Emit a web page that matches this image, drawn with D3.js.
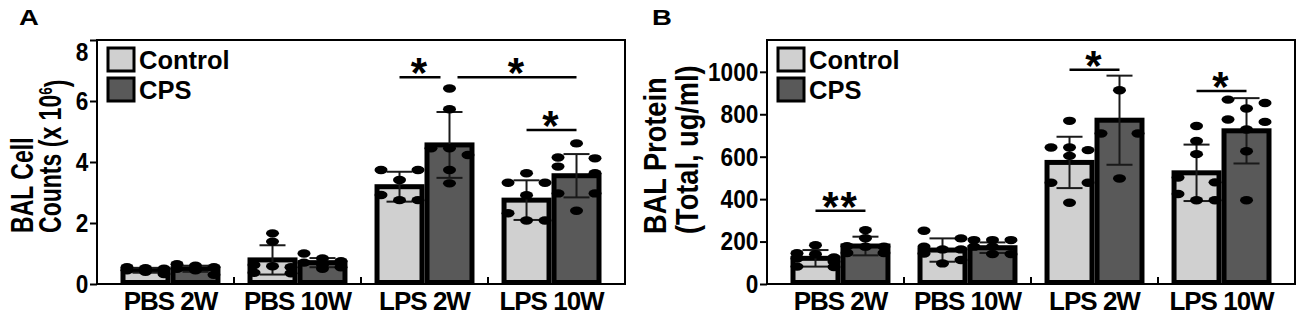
<!DOCTYPE html>
<html lang="en">
<head>
    <meta charset="UTF-8">
    <title>BAL cells and protein</title>
    <style>
        body { margin: 0; background: #fff; }
        svg { display: block; font-family: "Liberation Sans", Arial, sans-serif; font-weight: bold; }
    </style>
</head>
<body>

<div id="content"></div>

<script src="https://d3js.org/d3.v7.min.js"></script>
<script>

    // categories
    var groups = ["PBS 2W", "PBS 10W", "LPS 2W", "LPS 10W"];
    var series = ["Control", "CPS"];

    // A: BAL cell counts (x 10^6), mean and SD per group
    var cellMeanControl = [0.45, 0.79, 3.19, 2.75];
    var cellMeanCPS = [0.50, 0.70, 4.56, 3.55];
    var cellSdControl = [0.08, 0.48, 0.49, 0.65];
    var cellSdCPS = [0.10, 0.15, 1.08, 0.71];
    var cellTicks = [0, 2, 4, 6, 8];

    // A: individual animals
    var cellDotsControl = [
        [0.55, 0.52, 0.5, 0.45, 0.4, 0.33],
        [1.66, 1.39, 0.62, 0.58, 0.55, 0.37, 0.35],
        [3.74, 3.74, 3.41, 2.92, 2.75, 2.75],
        [3.63, 3.32, 3.32, 2.91, 2.32, 2.08, 2.08]
    ];
    var cellDotsCPS = [
        [0.65, 0.6, 0.55, 0.5, 0.45, 0.3],
        [1.0, 0.84, 0.75, 0.7, 0.62, 0.55, 0.5],
        [6.41, 5.73, 4.45, 4.45, 4.23, 3.74, 3.30],
        [4.61, 4.15, 4.12, 3.85, 3.63, 2.97, 2.97, 2.4]
    ];

    // B: BAL protein (total, ug/ml)
    var protMeanControl = [121, 160, 573, 524];
    var protMeanCPS = [179, 171, 772, 722];
    var protSdControl = [39, 55, 121, 133];
    var protSdCPS = [44, 25, 210, 154];
    var protTicks = [0, 200, 400, 600, 800, 1000];

    var protDotsControl = [
        [183, 145, 140, 125, 120, 105, 82, 80],
        [251, 215, 176, 163, 163, 144, 113, 97],
        [769, 643, 643, 631, 604, 477, 477, 383],
        [745, 674, 612, 502, 479, 424, 395, 395]
    ];
    var protDotsCPS = [
        [254, 216, 178, 176, 176, 146, 146],
        [207, 207, 207, 176, 176, 141, 141],
        [913, 709, 709, 497],
        [869, 853, 827, 775, 764, 728, 626, 395]
    ];

    // significance: [group, series] -> [group, series], label, height in data units
    var cellSig = [
        {from: [2, 0], to: [2, 1], label: "*", y: 6.78},
        {from: [2, 1], to: [3, 1], label: "*", y: 6.78},
        {from: [3, 0], to: [3, 1], label: "*", y: 5.05}
    ];
    var protSig = [
        {from: [0, 0], to: [0, 1], label: "**", y: 345},
        {from: [2, 0], to: [2, 1], label: "*", y: 1010},
        {from: [3, 0], to: [3, 1], label: "*", y: 910}
    ];

    var fills = ["#d0d0d0", "#595959"];

    var svg = d3.select("#content")
        .append("svg")
        .attr("width", 1299)
        .attr("height", 317)
        .style("background-color", "#fff");

    // dots closer than one dot height share a row (at most 3) and sit side by side
    function swarm(values, yScale, step) {
        var sorted = values.slice().sort(function (a, b) { return b - a; });
        var rows = [];
        sorted.forEach(function (v) {
            var row = rows[rows.length - 1];
            if (row && row.length < 3 && yScale(v) - yScale(row[0]) < 8) row.push(v);
            else rows.push([v]);
        });
        var out = [];
        rows.forEach(function (row) {
            var n = row.length;
            row.forEach(function (v, k) {
                out.push({v: v, dx: (k - (n - 1) / 2) * step * (n == 2 ? 2 : 1)});
            });
        });
        return out;
    }

    function createBarPanel(p) {
        var top = 40, bottom = 284, width = 528;
        var g = svg.append("g").attr("transform", "translate(" + p.left + ",0)");

        var xScale = d3.scaleBand().domain(groups).range([0, width]).paddingInner(0.213).paddingOuter(0.185);
        var xSub = d3.scaleBand().domain(series).range([0, xScale.bandwidth()]);
        var yScale = d3.scaleLinear().domain(p.yDomain).range([bottom, top]);

        function barCenter(gi, si) {
            return xScale(groups[gi]) + xSub(series[si]) + xSub.bandwidth() / 2;
        }

        // y axis
        var yAxis = d3.axisLeft(yScale).tickValues(p.ticks).tickFormat(d3.format("d")).tickSize(7).tickSizeOuter(0);
        var yAxisG = g.append("g").call(yAxis);
        yAxisG.select(".domain").remove();
        yAxisG.selectAll("line").attr("stroke", "#000").attr("stroke-width", 2);
        yAxisG.selectAll("text")
            .attr("x", -10)
            .attr("transform", "scale(0.87,1)")
            .style("font-size", "26px")
            .style("font-family", "'Liberation Sans', Arial, sans-serif")
            .style("font-weight", "bold")
            .attr("fill", "#000");
        if (p.topLabelShift) {
            yAxisG.selectAll("text").filter(function (d) { return d == p.yDomain[1]; })
                .attr("dy", (0.32 * 26 + p.topLabelShift) + "px");
        }

        // bars
        series.forEach(function (s, si) {
            g.selectAll(".bar" + si)
                .data(p.means[si])
                .enter().append("rect")
                .attr("x", function (d, i) { return xScale(groups[i]) + xSub(s) + 2.5; })
                .attr("y", function (d) { return yScale(d); })
                .attr("width", xSub.bandwidth() - 5)
                .attr("height", function (d) { return yScale(0) - yScale(d) - 1.5; })
                .attr("fill", fills[si])
                .attr("stroke", "#000")
                .attr("stroke-width", 5);
        });

        // error bars
        series.forEach(function (s, si) {
            p.means[si].forEach(function (m, i) {
                var cx = barCenter(i, si);
                var sd = p.sds[si][i];
                var eb = g.append("g").attr("stroke", "#1a1a1a").attr("stroke-width", 2);
                eb.append("line").attr("x1", cx).attr("x2", cx).attr("y1", yScale(m - sd)).attr("y2", yScale(m + sd));
                [m - sd, m + sd].forEach(function (v) {
                    eb.append("line").attr("x1", cx - 13).attr("x2", cx + 13).attr("y1", yScale(v)).attr("y2", yScale(v));
                });
            });
        });

        // individual points
        series.forEach(function (s, si) {
            p.dots[si].forEach(function (vals, i) {
                var cx = barCenter(i, si);
                g.selectAll(null)
                    .data(swarm(vals, yScale, xSub.bandwidth() * 0.37))
                    .enter().append("ellipse")
                    .attr("cx", function (d) { return cx + d.dx; })
                    .attr("cy", function (d) { return yScale(d.v); })
                    .attr("rx", 6.5)
                    .attr("ry", 4.2)
                    .attr("fill", "#000");
            });
        });

        // frame
        g.append("rect")
            .attr("x", 0).attr("y", top)
            .attr("width", width).attr("height", bottom - top)
            .attr("fill", "none")
            .attr("stroke", "#000")
            .attr("stroke-width", 2);

        // small ticks between groups
        for (var i = 1; i < groups.length; i++) {
            var bx = (xScale(groups[i - 1]) + xScale.bandwidth() + xScale(groups[i])) / 2;
            g.append("line").attr("x1", bx).attr("x2", bx).attr("y1", bottom).attr("y2", bottom - 7)
                .attr("stroke", "#000").attr("stroke-width", 2);
        }

        // group labels
        g.selectAll(".xlabel")
            .data(groups)
            .enter().append("text")
            .attr("x", function (d) { return xScale(d) + xScale.bandwidth() / 2; })
            .attr("y", 310)
            .attr("text-anchor", "middle")
            .style("font-size", "26px")
            .style("letter-spacing", "-1px")
            .text(function (d) { return d; });

        // legend
        series.forEach(function (s, si) {
            var ly = 48 + si * 30;
            g.append("rect")
                .attr("x", 11).attr("y", ly)
                .attr("width", 26).attr("height", 23)
                .attr("fill", fills[si])
                .attr("stroke", "#000").attr("stroke-width", 3);
            g.append("text")
                .attr("x", 42).attr("y", ly + 20.5)
                .style("font-size", "25.5px")
                .text(s);
        });

        // significance bars
        p.sig.forEach(function (c, ci) {
            var x1 = barCenter(c.from[0], c.from[1]);
            var x2 = barCenter(c.to[0], c.to[1]);
            // leave a gap where two bars meet at the same bar
            p.sig.forEach(function (o, oi) {
                if (oi == ci || o.y != c.y) return;
                if (o.from[0] == c.to[0] && o.from[1] == c.to[1]) x2 -= 9;
                if (o.to[0] == c.from[0] && o.to[1] == c.from[1]) x1 += 8;
            });
            var ly = yScale(c.y);
            g.append("line").attr("x1", x1).attr("x2", x2).attr("y1", ly).attr("y2", ly)
                .attr("stroke", "#000").attr("stroke-width", 2.5);
            g.append("text")
                .attr("x", (x1 + x2) / 2)
                .attr("y", ly + 10)
                .attr("text-anchor", "middle")
                .style("font-size", "42px")
                .style("letter-spacing", "2px")
                .text(c.label);
        });

        // axis title, two lines reading upwards
        p.title.forEach(function (line, li) {
            var t = svg.append("text")
                .attr("transform", "translate(" + p.titleX[li] + "," + p.titleY + ") rotate(-90) scale(" + p.titleScale + ",1)")
                .style("font-size", "32px");
            if (line.sup) {
                t.append("tspan").text(line.text);
                t.append("tspan").attr("dy", "-0.45em").style("font-size", "19px").text(line.sup);
                t.append("tspan").attr("dy", "0.45em").text(line.after);
            } else {
                t.text(line.text);
            }
        });

        // panel letter
        svg.append("text")
            .attr("transform", "translate(" + p.letterX + ",25) scale(1.25,1)")
            .style("font-size", "22px")
            .text(p.letter);
    }

    createBarPanel({
        letter: "A", letterX: 19, left: 97,
        yDomain: [0, 8], ticks: cellTicks, topLabelShift: 12,
        means: [cellMeanControl, cellMeanCPS],
        sds: [cellSdControl, cellSdCPS],
        dots: [cellDotsControl, cellDotsCPS],
        sig: cellSig,
        title: [{text: "BAL Cell"}, {text: "Counts (x 10", sup: "6", after: ")"}],
        titleX: [33, 61], titleY: 233, titleScale: 0.72
    });

    createBarPanel({
        letter: "B", letterX: 652, left: 767,
        yDomain: [0, 1150], ticks: protTicks, topLabelShift: 0,
        means: [protMeanControl, protMeanCPS],
        sds: [protSdControl, protSdCPS],
        dots: [protDotsControl, protDotsCPS],
        sig: protSig,
        title: [{text: "BAL Protein"}, {text: "(Total, ug/ml)"}],
        titleX: [666, 698], titleY: 234, titleScale: 0.85
    });

</script>

</body>
</html>
